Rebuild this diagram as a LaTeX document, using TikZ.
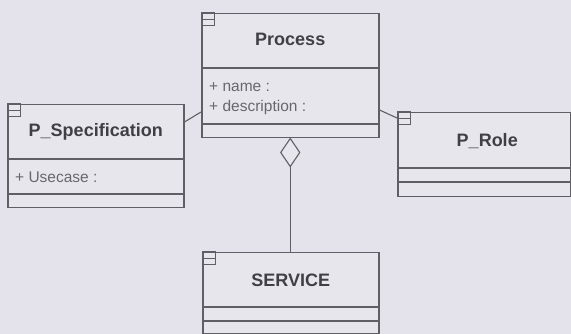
\documentclass[tikz,border=0pt]{standalone}
\usepackage{fontspec}
\setmainfont{Liberation Sans}
\usetikzlibrary{calc}
\definecolor{paper}{RGB}{228,227,235}
\definecolor{boxfill}{RGB}{231,230,237}
\definecolor{edge}{RGB}{96,95,102}
\definecolor{ink}{RGB}{64,63,70}
\definecolor{attr}{RGB}{104,103,110}

\begin{document}
\begin{tikzpicture}[x=1pt,y=-1pt,
  umlbox/.style={draw=edge, fill=boxfill, line width=1.5pt, rectangle, inner sep=0pt, anchor=north west},
  classname/.style={text=ink, anchor=base, inner sep=0pt, font=\fontsize{18}{20}\selectfont\bfseries},
  attrtext/.style={text=attr, anchor=base west, inner sep=0pt, font=\fontsize{15.5}{17}\selectfont},
  divider/.style={draw=edge, line width=1.5pt},
  tabicon/.style={draw=edge, line width=1pt},
  link/.style={draw=edge, line width=1.1pt}]

% canvas
\fill[paper] (0,0) rectangle (571,334);
\useasboundingbox (0,0) rectangle (571,334);

% class boxes
\node[umlbox, minimum width=177pt, minimum height=124pt] (proc) at (201,13) {};
\node[umlbox, minimum width=176pt, minimum height=103pt] (spec) at (7,104) {};
\node[umlbox, minimum width=173pt, minimum height=84pt]  (role) at (397,112) {};
\node[umlbox, minimum width=176pt, minimum height=81pt]  (serv) at (202,252) {};

% compartment dividers
\draw[divider] ($(proc.north west)+(0,55)$) -- ($(proc.north east)+(0,55)$);
\draw[divider] ($(proc.north west)+(0,111)$) -- ($(proc.north east)+(0,111)$);
\draw[divider] ($(spec.north west)+(0,55)$) -- ($(spec.north east)+(0,55)$);
\draw[divider] ($(spec.north west)+(0,90)$) -- ($(spec.north east)+(0,90)$);
\draw[divider] ($(role.north west)+(0,56)$) -- ($(role.north east)+(0,56)$);
\draw[divider] ($(role.north west)+(0,70)$) -- ($(role.north east)+(0,70)$);
\draw[divider] ($(serv.north west)+(0,55)$) -- ($(serv.north east)+(0,55)$);
\draw[divider] ($(serv.north west)+(0,69)$) -- ($(serv.north east)+(0,69)$);

% small class icons in the top-left corners
\foreach \b in {proc,spec,role,serv}{
  \draw[tabicon] (\b.north west) rectangle ++(13,13);
  \draw[tabicon] ($(\b.north west)+(0,6.5)$) -- ++(13,0);
}

% class names
\node[classname] (proctitle) at ($(proc.north)+(0,33)$) {Process};
\node[classname] (spectitle) at ($(spec.north)+(0,33)$) {P\_Specification};
\node[classname] (roletitle) at ($(role.north)+(3,35)$) {P\_Role};
\node[classname] (servtitle) at ($(serv.north)+(0,35)$) {SERVICE};

% attributes
\node[attrtext] (pname) at ($(proc.north west)+(8,79)$) {+ name :};
\node[attrtext] (pdesc) at ($(proc.north west)+(8,99)$) {+ description :};
\node[attrtext] (suse)  at ($(spec.north west)+(8,79)$) {+ Usecase :};

% associations
\draw[link] ($(spec.north east)+(0,18)$) -- ($(proc.north west)+(0,99)$);
\draw[link] ($(proc.north east)+(0,97)$) -- ($(role.north west)+(0,6)$);

% aggregation: hollow diamond at Process, line down to SERVICE
\coordinate (aggbot) at ($(proc.south)+(0,28)$);
\draw[link, fill=boxfill] (proc.south) -- ++(-9.5,14) -- (aggbot) -- ++(9.5,-14) -- cycle;
\draw[link] (aggbot) -- (aggbot |- serv.north);
\end{tikzpicture}
\end{document}
